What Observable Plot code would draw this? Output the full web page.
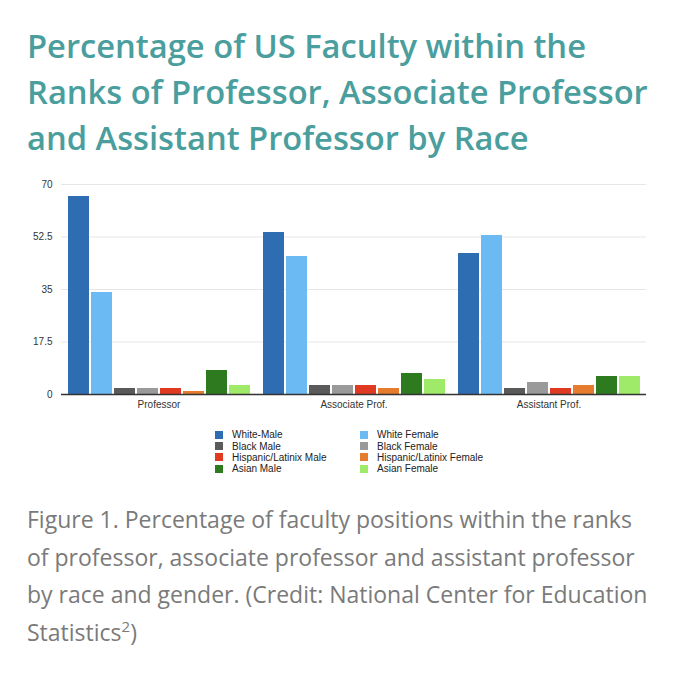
<!DOCTYPE html>
<html>
<head>
<meta charset="utf-8">
<script src="https://cdn.jsdelivr.net/npm/d3@7"></script>
<script src="https://cdn.jsdelivr.net/npm/@observablehq/plot@0.6"></script>
<style>
  html, body { margin: 0; padding: 0; background: #fff; }
  body { width: 680px; height: 678px; position: relative; overflow: hidden; }
  #title {
    position: absolute; left: 27px; top: 23px; margin: 0;
    font-family: "Open Sans", sans-serif; font-weight: 600;
    font-size: 32.7px; line-height: 46px; color: #4a9e9d;
    white-space: nowrap;
  }
  #chart { position: absolute; left: 0; top: 172px; }
  #legend {
    position: absolute; left: 215px; top: 429px;
    display: grid; grid-template-columns: 145px 140px;
    font-family: "Liberation Sans", Arial, sans-serif; font-size: 10px; color: #222;
  }
  .item { display: flex; align-items: center; height: 11.4px; white-space: nowrap; }
  .sw { width: 8px; height: 8px; margin-right: 9px; flex: none; }
  #caption {
    position: absolute; left: 27px; top: 501px; margin: 0;
    font-family: "Open Sans", sans-serif; font-weight: 400;
    font-size: 23px; line-height: 37.5px; color: #7a7a7a;
    white-space: nowrap;
  }
  #caption sup { font-size: 15px; line-height: 0; vertical-align: 9px; }
</style>
</head>
<body>
<div id="title">Percentage of US Faculty within the<br>Ranks of Professor, Associate Professor<br>and Assistant Professor by Race</div>
<div id="chart"></div>
<div id="legend"></div>
<div id="caption">Figure 1. Percentage of faculty positions within the ranks<br>of professor, associate professor and assistant professor<br>by race and gender. (Credit: National Center for Education<br>Statistics<sup>2</sup>)</div>
<script>
const ranks = ["Professor", "Associate Prof.", "Assistant Prof."];
const series = ["White-Male", "White Female", "Black Male", "Black Female",
  "Hispanic/Latinix Male", "Hispanic/Latinix Female", "Asian Male", "Asian Female"];
const colors = ["#2f6db3", "#6cbaf4", "#5a5a5a", "#9a9a9a", "#e03a22", "#e67d2e", "#2e7a1e", "#a0ea6a"];
const professor = [66, 34, 2, 2, 2, 1, 8, 3];
const associate = [54, 46, 3, 3, 3, 2, 7, 5];
const assistant = [47, 53, 2, 4, 2, 3, 6, 6];
const yTicks = [0, 17.5, 35, 52.5, 70];

const valuesByRank = [professor, associate, assistant];
const data = [];
ranks.forEach((r, i) => series.forEach((s, j) => data.push({rank: r, series: s, value: valuesByRank[i][j]})));

const chart = Plot.plot({
  width: 680, height: 246,
  marginLeft: 60, marginRight: 33, marginTop: 12, marginBottom: 24,
  style: {fontFamily: "'Liberation Sans', Arial, sans-serif", fontSize: "10px", color: "#333", background: "transparent"},
  fx: {domain: ranks, padding: 0, label: null, axis: "bottom", tickSize: 0, tickPadding: 6},
  x: {domain: series, paddingInner: 0.09, paddingOuter: 0.16, axis: null},
  y: {domain: [0, 70], ticks: yTicks, tickSize: 0, tickPadding: 9, label: null, tickFormat: d => String(d)},
  color: {domain: series, range: colors},
  marks: [
    Plot.ruleY(yTicks.filter(d => d > 0), {stroke: "#e6e6e6"}),
    Plot.barY(data, {fx: "rank", x: "series", y: "value", fill: "series"}),
    Plot.ruleY([0], {stroke: "#333", strokeWidth: 1.6})
  ]
});
document.getElementById("chart").appendChild(chart);

const legend = document.getElementById("legend");
series.forEach((s, i) => {
  const item = document.createElement("div");
  item.className = "item";
  const sw = document.createElement("span");
  sw.className = "sw";
  sw.style.background = colors[i];
  item.appendChild(sw);
  item.appendChild(document.createTextNode(s));
  legend.appendChild(item);
});
</script>
</body>
</html>
